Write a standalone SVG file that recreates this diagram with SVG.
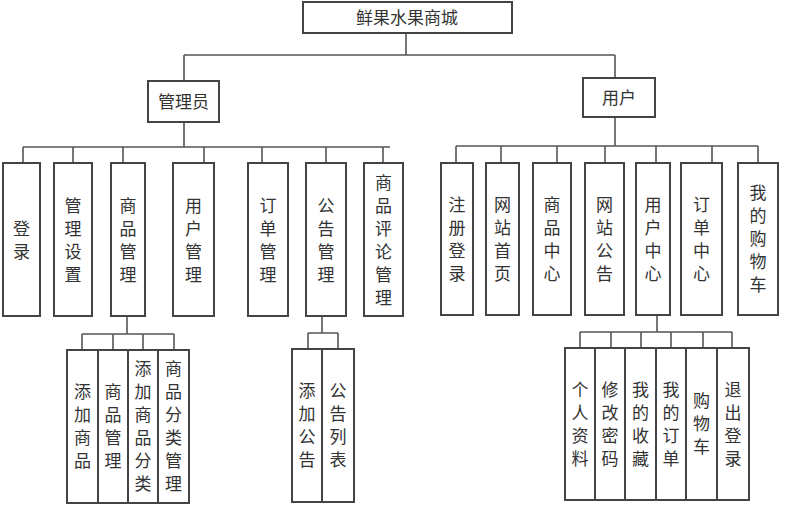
<svg xmlns="http://www.w3.org/2000/svg" width="800" height="528" viewBox="0 0 800 528">
<style>
rect{fill:#fff;stroke:#444;stroke-width:2}
#connectors path{fill:none;stroke:#555;stroke-width:1.6}
text{font-family:"Noto Sans CJK SC","Liberation Serif",serif;font-size:17px;fill:#333;text-anchor:middle}
</style>
<rect x="0" y="0" width="800" height="528" style="stroke:none"/>
<g id="connectors">
<path d="M406 33V55M184 55H615M184 55V81M615 55V78"/>
<path d="M184 122V147M23 147H390M23 147V163M73 147V163M123 147V163M204 147V163M262 147V163M326 147V163M383 147V163"/>
<path d="M615 117V146M456 146H758M456 146V163M501 146V163M557 146V163M605 146V163M656 146V163M712 146V163M758 146V163"/>
<path d="M127 316V334M82 334H174M82 334V350M113 334V350M143 334V350M174 334V350"/>
<path d="M322 316V333M308 333H338M308 333V349M338 333V349"/>
<path d="M657 315V332M580 332H732M580 332V348M611 332V348M641 332V348M671 332V348M703 332V348M732 332V348"/>
</g>
<g id="root"><rect x="303" y="2" width="209" height="31"/><text x="407" y="24">鲜果水果商城</text></g>
<g id="admin"><rect x="148" y="81" width="71" height="41"/><text x="183.5" y="108">管理员</text></g>
<g id="user"><rect x="583" y="78" width="72" height="39"/><text x="619" y="104">用户</text></g>
<g id="a1"><rect x="3" y="163" width="37" height="153"/><text><tspan x="21.5" y="234.5">登</tspan><tspan x="21.5" y="257.5">录</tspan></text></g>
<g id="a2"><rect x="54" y="163" width="38" height="153"/><text><tspan x="73" y="211.5">管</tspan><tspan x="73" y="234.5">理</tspan><tspan x="73" y="257.5">设</tspan><tspan x="73" y="280.5">置</tspan></text></g>
<g id="a3"><rect x="111" y="163" width="34" height="153"/><text><tspan x="128" y="211.5">商</tspan><tspan x="128" y="234.5">品</tspan><tspan x="128" y="257.5">管</tspan><tspan x="128" y="280.5">理</tspan></text></g>
<g id="a4"><rect x="173" y="163" width="41" height="153"/><text><tspan x="193.5" y="211.5">用</tspan><tspan x="193.5" y="234.5">户</tspan><tspan x="193.5" y="257.5">管</tspan><tspan x="193.5" y="280.5">理</tspan></text></g>
<g id="a5"><rect x="248" y="163" width="40" height="153"/><text><tspan x="268" y="211.5">订</tspan><tspan x="268" y="234.5">单</tspan><tspan x="268" y="257.5">管</tspan><tspan x="268" y="280.5">理</tspan></text></g>
<g id="a6"><rect x="306" y="163" width="40" height="153"/><text><tspan x="326" y="211.5">公</tspan><tspan x="326" y="234.5">告</tspan><tspan x="326" y="257.5">管</tspan><tspan x="326" y="280.5">理</tspan></text></g>
<g id="a7"><rect x="364" y="163" width="39" height="153"/><text><tspan x="383.5" y="188.5">商</tspan><tspan x="383.5" y="211.5">品</tspan><tspan x="383.5" y="234.5">评</tspan><tspan x="383.5" y="257.5">论</tspan><tspan x="383.5" y="280.5">管</tspan><tspan x="383.5" y="303.5">理</tspan></text></g>
<g id="u1"><rect x="441" y="163" width="32" height="152"/><text><tspan x="457" y="210.5">注</tspan><tspan x="457" y="233.5">册</tspan><tspan x="457" y="256.5">登</tspan><tspan x="457" y="279.5">录</tspan></text></g>
<g id="u2"><rect x="486" y="163" width="33" height="152"/><text><tspan x="502.5" y="210.5">网</tspan><tspan x="502.5" y="233.5">站</tspan><tspan x="502.5" y="256.5">首</tspan><tspan x="502.5" y="279.5">页</tspan></text></g>
<g id="u3"><rect x="533" y="163" width="38" height="152"/><text><tspan x="552" y="210.5">商</tspan><tspan x="552" y="233.5">品</tspan><tspan x="552" y="256.5">中</tspan><tspan x="552" y="279.5">心</tspan></text></g>
<g id="u4"><rect x="585" y="163" width="39" height="152"/><text><tspan x="604.5" y="210.5">网</tspan><tspan x="604.5" y="233.5">站</tspan><tspan x="604.5" y="256.5">公</tspan><tspan x="604.5" y="279.5">告</tspan></text></g>
<g id="u5"><rect x="636" y="163" width="34" height="152"/><text><tspan x="653" y="210.5">用</tspan><tspan x="653" y="233.5">户</tspan><tspan x="653" y="256.5">中</tspan><tspan x="653" y="279.5">心</tspan></text></g>
<g id="u6"><rect x="681" y="163" width="41" height="152"/><text><tspan x="701.5" y="210.5">订</tspan><tspan x="701.5" y="233.5">单</tspan><tspan x="701.5" y="256.5">中</tspan><tspan x="701.5" y="279.5">心</tspan></text></g>
<g id="u7"><rect x="738" y="163" width="40" height="152"/><text><tspan x="758" y="199">我</tspan><tspan x="758" y="222">的</tspan><tspan x="758" y="245">购</tspan><tspan x="758" y="268">物</tspan><tspan x="758" y="291">车</tspan></text></g>
<g id="s1"><rect x="67" y="350" width="31" height="153"/><text><tspan x="82.5" y="398">添</tspan><tspan x="82.5" y="421">加</tspan><tspan x="82.5" y="444">商</tspan><tspan x="82.5" y="467">品</tspan></text></g>
<g id="s2"><rect x="98" y="350" width="30" height="153"/><text><tspan x="113" y="398">商</tspan><tspan x="113" y="421">品</tspan><tspan x="113" y="444">管</tspan><tspan x="113" y="467">理</tspan></text></g>
<g id="s3"><rect x="128" y="350" width="30" height="153"/><text><tspan x="143" y="375">添</tspan><tspan x="143" y="398">加</tspan><tspan x="143" y="421">商</tspan><tspan x="143" y="444">品</tspan><tspan x="143" y="467">分</tspan><tspan x="143" y="490">类</tspan></text></g>
<g id="s4"><rect x="158" y="350" width="31" height="153"/><text><tspan x="173.5" y="375">商</tspan><tspan x="173.5" y="398">品</tspan><tspan x="173.5" y="421">分</tspan><tspan x="173.5" y="444">类</tspan><tspan x="173.5" y="467">管</tspan><tspan x="173.5" y="490">理</tspan></text></g>
<g id="n1"><rect x="292" y="349" width="30" height="153"/><text><tspan x="307" y="397">添</tspan><tspan x="307" y="420">加</tspan><tspan x="307" y="443">公</tspan><tspan x="307" y="466">告</tspan></text></g>
<g id="n2"><rect x="322" y="349" width="32" height="153"/><text><tspan x="338" y="397">公</tspan><tspan x="338" y="420">告</tspan><tspan x="338" y="443">列</tspan><tspan x="338" y="466">表</tspan></text></g>
<g id="c1"><rect x="565" y="348" width="30" height="152"/><text><tspan x="580" y="395.5">个</tspan><tspan x="580" y="418.5">人</tspan><tspan x="580" y="441.5">资</tspan><tspan x="580" y="464.5">料</tspan></text></g>
<g id="c2"><rect x="595" y="348" width="30" height="152"/><text><tspan x="610" y="395.5">修</tspan><tspan x="610" y="418.5">改</tspan><tspan x="610" y="441.5">密</tspan><tspan x="610" y="464.5">码</tspan></text></g>
<g id="c3"><rect x="625" y="348" width="31" height="152"/><text><tspan x="640.5" y="395.5">我</tspan><tspan x="640.5" y="418.5">的</tspan><tspan x="640.5" y="441.5">收</tspan><tspan x="640.5" y="464.5">藏</tspan></text></g>
<g id="c4"><rect x="656" y="348" width="30" height="152"/><text><tspan x="671" y="395.5">我</tspan><tspan x="671" y="418.5">的</tspan><tspan x="671" y="441.5">订</tspan><tspan x="671" y="464.5">单</tspan></text></g>
<g id="c5"><rect x="686" y="348" width="31" height="152"/><text><tspan x="701.5" y="407">购</tspan><tspan x="701.5" y="430">物</tspan><tspan x="701.5" y="453">车</tspan></text></g>
<g id="c6"><rect x="717" y="348" width="32" height="152"/><text><tspan x="733" y="395.5">退</tspan><tspan x="733" y="418.5">出</tspan><tspan x="733" y="441.5">登</tspan><tspan x="733" y="464.5">录</tspan></text></g>
</svg>
